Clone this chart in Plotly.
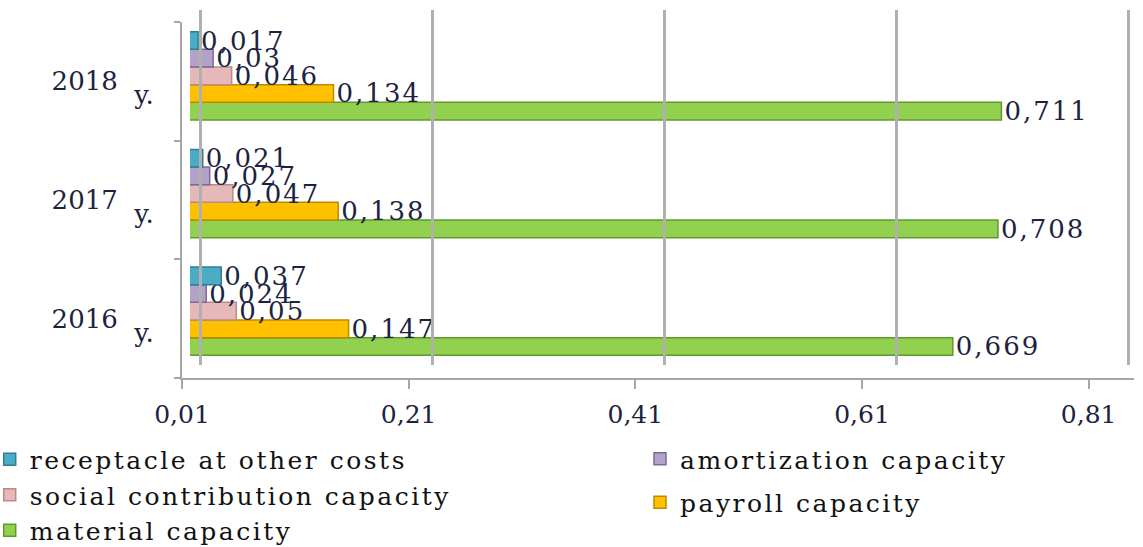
import plotly.graph_objects as go

years = ["2016", "2017", "2018"]
year_labels = [y + "&nbsp; <span style='baseline-shift:-0.55em'>y.</span>" for y in years]

series_names = [
    "receptacle at other costs",
    "amortization capacity",
    "social contribution capacity",
    "payroll capacity",
    "material capacity",
]
receptacle = [0.037, 0.021, 0.017]
amortization = [0.024, 0.027, 0.03]
social = [0.05, 0.047, 0.046]
payroll = [0.147, 0.138, 0.134]
material = [0.669, 0.708, 0.711]

tick_vals = [0.01, 0.21, 0.41, 0.61, 0.81]

colors = ["#4bacc6", "#b3a2c7", "#e6b9b8", "#ffc000", "#92d050"]
edge = ["#2f7f95", "#7d6a9c", "#b98a89", "#c08a00", "#5f9a2a"]
values = [receptacle, amortization, social, payroll, material]
legend_of = ["legend", "legend2", "legend", "legend2", "legend"]

W, H = 1143, 547
def px_x(a, b):
    return [a / W, b / W]
def px_y(top, bottom):
    return [1 - bottom / H, 1 - top / H]

SERIF = "DejaVu Serif"
TXT = "#1c2340"

fig = go.Figure()
for i in reversed(range(5)):
    fig.add_trace(go.Bar(
        name="<span style='letter-spacing:2.5px'>" + series_names[i] + "</span>",
        y=years,
        x=values[i],
        orientation="h",
        xaxis="x2", yaxis="y2",
        legend=legend_of[i],
        legendgroup=series_names[i],
        legendrank=i + 1,
        marker=dict(color=colors[i], line=dict(color=edge[i], width=1.5)),
        texttemplate="<span style='letter-spacing:2px'>%{x:.3~f}</span>",
        textposition="outside",
        constraintext="none",
        textfont=dict(family=SERIF, size=26, color=TXT),
        cliponaxis=False,
    ))

# invisible helper traces so the front axis and the back wall are drawn
fig.add_trace(go.Scatter(x=tick_vals[:3], y=years, xaxis="x", yaxis="y",
                         mode="markers", marker=dict(opacity=0), showlegend=False,
                         hoverinfo="skip"))
fig.add_trace(go.Scatter(x=tick_vals, y=[0.5] * len(tick_vals), xaxis="x3", yaxis="y3",
                         mode="markers", marker=dict(opacity=0), showlegend=False,
                         hoverinfo="skip"))

fig.update_layout(
    width=W, height=H,
    margin=dict(l=0, r=0, t=0, b=0, autoexpand=False),
    paper_bgcolor="white", plot_bgcolor="rgba(0,0,0,0)",
    barmode="group", bargap=0.25, bargroupgap=0,
    separators=", ",
    font=dict(family=SERIF, size=24, color="#111111"),
    showlegend=True,
    legend=dict(
        orientation="v", x=-0.009, xanchor="left", y=-0.012, yanchor="bottom",
        traceorder="normal", tracegroupgap=0,
        font=dict(family=SERIF, size=25, color="#111111"),
        bgcolor="rgba(0,0,0,0)", itemwidth=30,
    ),
    legend2=dict(
        orientation="v", x=640 / W, xanchor="left", y=1 - 436 / H, yanchor="top",
        traceorder="grouped", tracegroupgap=8,
        font=dict(family=SERIF, size=25, color="#111111"),
        bgcolor="rgba(0,0,0,0)", itemwidth=30,
    ),
    # front axis: ticks and labels
    xaxis=dict(
        domain=px_x(182, 1134), range=[0.01, 0.85], anchor="y", automargin=False,
        tickvals=tick_vals, tickformat=".2f",
        showgrid=False, zeroline=False,
        showline=True, linecolor="#a6a6a6", linewidth=2,
        ticks="outside", ticklen=9, tickcolor="#a6a6a6", tickwidth=2,
        ticklabelstandoff=4,
        tickfont=dict(family=SERIF, size=25, color=TXT),
    ),
    # bar scale (inside the 3D box)
    xaxis2=dict(
        domain=px_x(190, 1116), range=[0.01, 0.81], anchor="y2", automargin=False,
        visible=False, showgrid=False, zeroline=False,
    ),
    # back wall gridlines
    xaxis3=dict(
        domain=px_x(194.2, 1133.8), range=[0.005, 0.815], anchor="y3", automargin=False,
        tickvals=tick_vals, showticklabels=False, ticks="",
        showgrid=True, gridcolor="#b0b0b0", gridwidth=3,
        showline=False, zeroline=False,
    ),
    yaxis=dict(
        domain=px_y(22, 378), anchor="x", automargin=False,
        type="category", range=[-0.5, 2.5],
        tickvals=years, ticktext=year_labels,
        categoryorder="array", categoryarray=years,
        tickson="boundaries",
        showline=True, linecolor="#a6a6a6", linewidth=2,
        ticks="outside", ticklen=6, tickcolor="#a6a6a6", tickwidth=2,
        ticklabelstandoff=21,
        tickfont=dict(family=SERIF, size=26, color=TXT),
        showgrid=False, zeroline=False,
    ),
    yaxis2=dict(
        domain=px_y(17, 370), anchor="x2", automargin=False,
        type="category", range=[-0.5, 2.5],
        categoryorder="array", categoryarray=years,
        visible=False, showgrid=False, zeroline=False,
    ),
    yaxis3=dict(
        domain=px_y(10, 365), anchor="x3", range=[0, 1], automargin=False,
        visible=False, showgrid=False, zeroline=False,
    ),
)

fig.write_html(
    "out.html",
    config={"displayModeBar": False},
    post_script="document.body.style.margin='0px';document.body.style.overflow='hidden';",
)
